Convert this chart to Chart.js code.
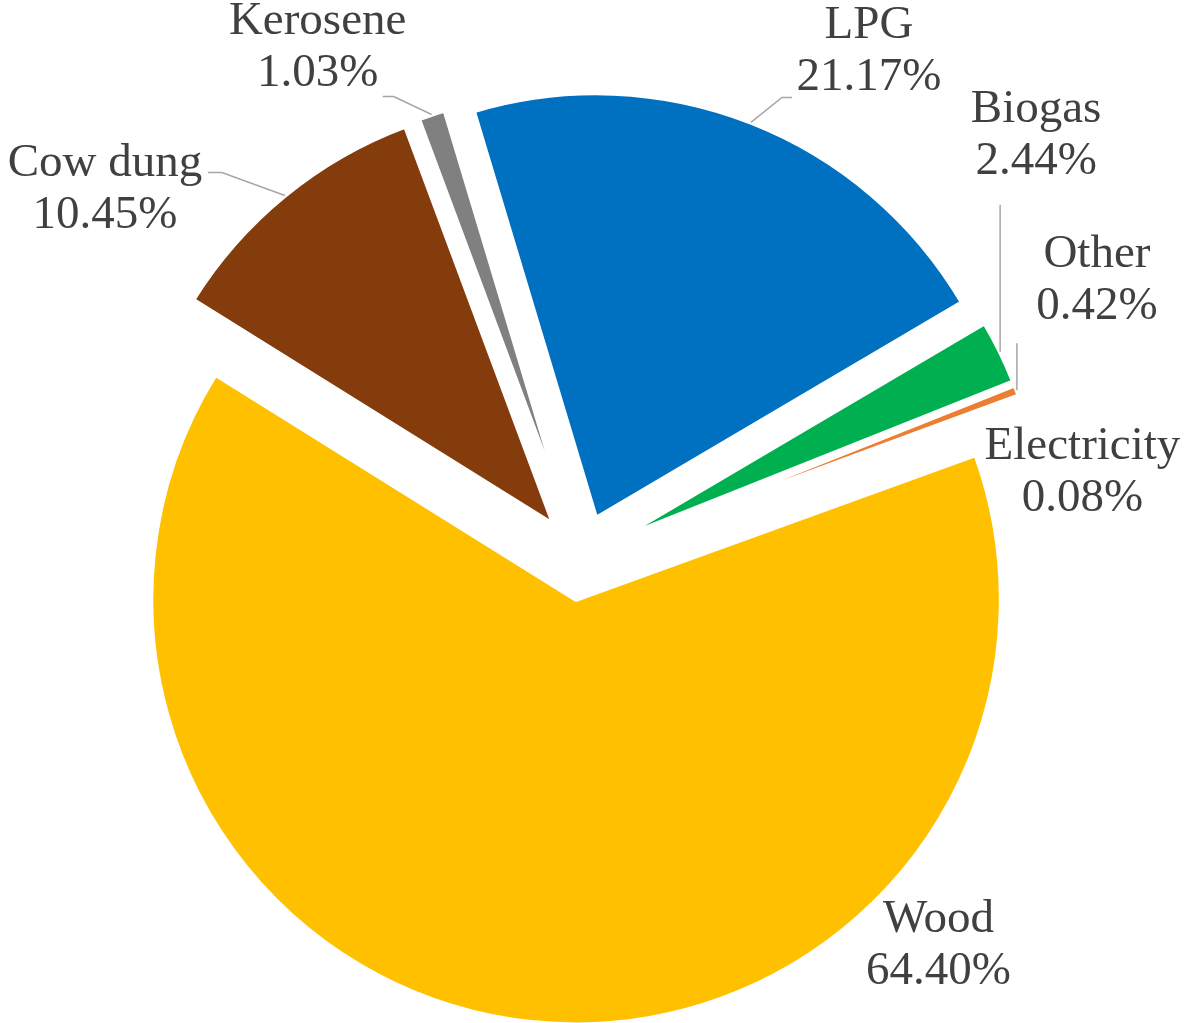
<!DOCTYPE html>
<html>
<head>
<meta charset="utf-8">
<script src="https://cdn.jsdelivr.net/npm/chart.js@4"></script>
<style>
  html, body { margin: 0; padding: 0; background: #fff; }
  #wrap { width: 1184px; height: 1023px; position: relative; }
</style>
</head>
<body>
<div id="wrap"><canvas id="fuelChart"></canvas></div>
<script>
// slice order as drawn clockwise, starting with Biogas
const categories = ['Biogas', 'Other', 'Electricity', 'Wood', 'Cow dung', 'Kerosene', 'LPG'];
const values = [2.44, 0.42, 0.08, 64.40, 10.45, 1.03, 21.17];
const colors = ['#00B050', '#ED7D31', '#A5A5A5', '#FFC000', '#843C0C', '#808080', '#0070C0'];

const RADIUS = 425;   // pie radius in px
const EXPLODE = 42.3; // every slice pulled out this far along its middle angle

// label placement relative to the outer middle point of each slice
const labelPos = {
    'Biogas':      { dx: 36,   dy: -230, line: [[0, -147]] },
    'Other':       { dx: 80,   dy: -123, line: [[0, -47]] },
    'Electricity': { dx: 63,   dy: 62 },
    'Wood':        { dx: 407,  dy: -90 },
    'Cow dung':    { dx: -180, dy: -20, line: [[-63, -23], [-77, -23]] },
    'Kerosene':    { dx: -114, dy: -81, line: [[-38, -18], [-49, -18]] },
    'LPG':         { dx: 118,  dy: -84, line: [[31, -25], [41, -25]] }
};

// explode the slices: move each arc centre outward along its own middle angle
// (Chart.js' own `offset` trims thin slices in v4.5, so it is not used)
const explodeSlices = {
    id: 'explodeSlices',
    afterDatasetUpdate(chart, args) {
        args.meta.data.forEach(arc => {
            const mid = (arc.startAngle + arc.endAngle) / 2;
            arc.x += Math.cos(mid) * EXPLODE;
            arc.y += Math.sin(mid) * EXPLODE;
        });
    }
};

const pieLabels = {
    id: 'pieLabels',
    afterDatasetsDraw(chart) {
        const ctx = chart.ctx;
        const meta = chart.getDatasetMeta(0);
        ctx.save();
        ctx.font = '47px "Liberation Serif", "Times New Roman", serif';
        ctx.textAlign = 'center';
        ctx.textBaseline = 'alphabetic';
        meta.data.forEach((arc, i) => {
            const mid = (arc.startAngle + arc.endAngle) / 2;
            const ax = arc.x + Math.cos(mid) * RADIUS;
            const ay = arc.y + Math.sin(mid) * RADIUS;
            const pos = labelPos[categories[i]];
            if (pos.line) {
                ctx.beginPath();
                ctx.moveTo(ax, ay);
                pos.line.forEach(p => ctx.lineTo(ax + p[0], ay + p[1]));
                ctx.strokeStyle = '#A6A6A6';
                ctx.lineWidth = 1.5;
                ctx.stroke();
            }
            ctx.fillStyle = '#404040';
            ctx.fillText(categories[i], ax + pos.dx, ay + pos.dy);
            ctx.fillText(values[i].toFixed(2) + '%', ax + pos.dx, ay + pos.dy + 52);
        });
        ctx.restore();
    }
};

const fuelChart = new Chart(
    document.getElementById('fuelChart'),
    {
        type: 'pie',
        data: {
            labels: categories,
            datasets: [{
                data: values,
                backgroundColor: colors,
                borderColor: '#ffffff',
                borderWidth: 4.5,
                borderAlign: 'center',
                offset: 0,
                hoverOffset: 0,
                radius: RADIUS
            }]
        },
        options: {
            responsive: true,
            maintainAspectRatio: false,
            animation: false,
            events: [],
            rotation: 59.5,
            layout: { padding: { left: 0, right: 23, top: 92, bottom: 0 } },
            plugins: {
                legend: { display: false },
                tooltip: { enabled: false }
            }
        },
        plugins: [explodeSlices, pieLabels]
    }
);
</script>
</body>
</html>
